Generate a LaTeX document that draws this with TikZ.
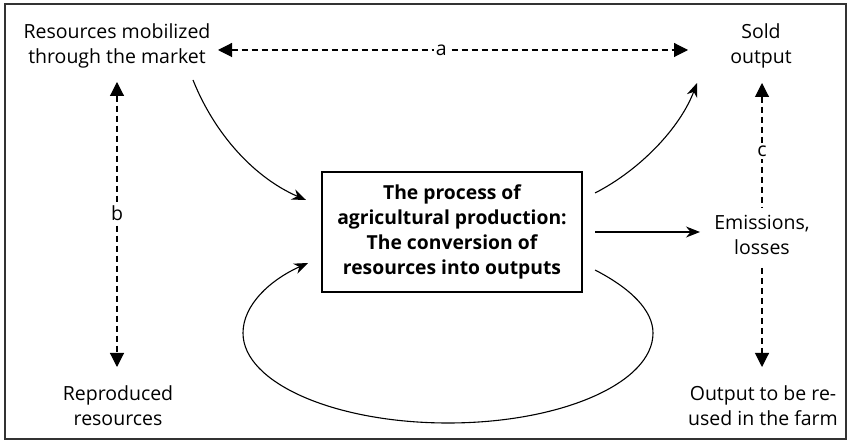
\documentclass[tikz,border=0pt]{standalone}
\usepackage{fontspec}
\setmainfont{Open Sans}
\usetikzlibrary{arrows.meta}
\tikzset{tri/.tip={Triangle[length=14pt,width=14pt]}}
\begin{document}
\begin{tikzpicture}[x=1pt,y=-1pt,
  lbl/.style={align=center,font=\fontsize{19.5}{25}\selectfont,inner sep=0pt},
  procbox/.style={draw,line width=1.3pt,align=center,minimum width=260pt,minimum height=120pt,
    font=\fontsize{19.3}{25}\selectfont\bfseries,inner sep=0pt},
  flow/.style={line width=1.1pt,-{Stealth[length=14pt,width=11pt]}},
  link/.style={line width=1.1pt,dash pattern=on 6pt off 4pt},
  tag/.style={fill=white,inner sep=2pt,font=\fontsize{19.5}{20}\selectfont}]
\useasboundingbox (0,0) rectangle (851,443);
\draw[line width=2pt,black!80] (5,4) rectangle (846,439);

% text nodes
\node[lbl] (market) at (117,46) {Resources mobilized\\through the market};
\node[lbl] (sold) at (761,46) {Sold\\output};
\node[lbl] (emis) at (762,235) {Emissions,\\losses};
\node[lbl] (reuse) at (763,406) {Output to be re-\\used in the farm};
\node[lbl] (repro) at (118,406) {Reproduced\\resources};
\node[procbox] (box) at (452,232) {The process of\\agricultural production:\\The conversion of\\resources into outputs};

% connector end points
\coordinate (aL) at (218,50);
\coordinate (aR) at (688,50);
\coordinate (bT) at (117,82);
\coordinate (bB) at (117,367);
\coordinate (cT) at (762,83);
\coordinate (cB) at (762,208);
\coordinate (dT) at (762,268);
\coordinate (dB) at (762,367);
\coordinate (m1) at (193,80);
\coordinate (m2) at (306,200);
\coordinate (s1) at (595,193);
\coordinate (s2) at (697,83);
\coordinate (e1) at (595,232);
\coordinate (e2) at (700,232);
\coordinate (l1) at (595,270);
\coordinate (l2) at (308,263);

% dashed links
\draw[link,tri-tri] (aL) -- node[tag,pos=0.475]{a} (aR);
\draw[link,tri-tri] (bT) -- node[tag,pos=0.46]{b} (bB);
\draw[link,tri-] (cT) -- node[tag,pos=0.55]{c} (cB);
\draw[link,-tri] (dT) -- (dB);

% flows through the process
\draw[flow] (m1) .. controls (215,135) and (255,178) .. (m2);
\draw[flow] (s1) .. controls (640,170) and (680,128) .. (s2);
\draw[flow] (e1) -- (e2);
\draw[flow] (l1) .. controls (630,288) and (653,310) .. (653,333)
  .. controls (653,383) and (561,423) .. (448,423)
  .. controls (335,423) and (243,383) .. (243,333)
  .. controls (243,305) and (270,280) .. (l2);
\end{tikzpicture}
\end{document}
